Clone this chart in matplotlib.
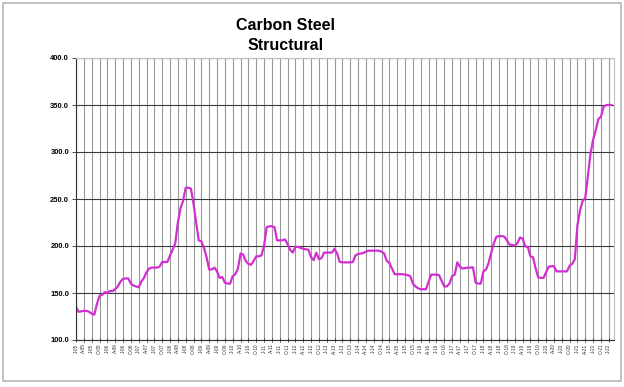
import matplotlib
matplotlib.use("Agg")
import matplotlib.pyplot as plt
from matplotlib.patches import Rectangle

plt.rcParams['font.family'] = ['Liberation Sans', 'DejaVu Sans']

# Monthly index values, Jan 2005 .. Feb 2022
values = [
    135, 130, 130.5, 131, 131, 130, 128, 127, 138, 147,
    148, 151, 150, 152, 152, 154, 157, 162, 165, 165.5,
    165.5, 160, 158, 157, 156, 162, 166, 172, 176, 177,
    177, 177, 178, 183, 183, 183, 190, 196, 203, 225,
    240, 248, 262, 262, 261, 245, 225, 206, 205, 198,
    188, 175, 175, 177, 173, 166, 167, 161, 160, 160,
    168, 170, 176, 192, 191, 184, 181, 180, 184, 189,
    189, 190, 200, 220, 221, 221, 220, 206, 206, 206,
    207, 202, 196, 193, 199, 199, 198, 197, 196.5, 196,
    188, 185, 193, 186, 187, 193, 193, 193, 193, 197,
    192, 183, 182.6, 182.6, 182.6, 182.6, 183, 190, 191.5, 192,
    192.5, 194, 195, 195, 195, 195, 195, 194, 192, 184,
    182, 176, 170, 170, 170, 170, 169.5, 169, 168, 160,
    157, 155, 154, 154, 154, 162, 169.5, 169.5, 169.5, 169,
    163, 157, 157, 160, 168, 169.5, 182.6, 178, 176, 176.5,
    177, 177, 177.3, 161, 160, 160, 173, 175, 182, 193,
    203, 210, 210.5, 210.5, 210, 206, 201.5, 201, 200.5, 203,
    209, 208, 199.5, 199, 189, 188, 176, 166.7, 166, 166,
    172, 178, 178.5, 178.5, 173, 173, 173, 173, 173, 179,
    181, 186, 222, 238, 248, 251, 275, 298, 313, 323,
    335, 337.5, 348, 350, 350, 350,
]

month_letters = ['J', 'A', 'J', 'O']
start_year = 5
tick_step = 3

n = len(values)
tick_pos = list(range(0, n, tick_step))
tick_labels = [f"{month_letters[(p // 3) % 4]}-{(start_year + p // 12):02d}" for p in tick_pos]

y_ticks = [100, 150, 200, 250, 300, 350, 400]

fig = plt.figure(figsize=(6.24, 3.87), dpi=100)
fig.patches.append(Rectangle((3 / 624, 6 / 387), 618 / 624, 378 / 387,
                             transform=fig.transFigure, fill=False,
                             edgecolor='#b8b8b8', linewidth=1.2))

ax = fig.add_axes([76 / 624, 47 / 387, 538 / 624, 282 / 387])
ax.plot(range(n), values, color='#d22ed2', linewidth=1.6, solid_joinstyle='round')

ax.set_xlim(0, 206)
ax.set_ylim(100, 400)
ax.set_yticks(y_ticks)
ax.set_yticklabels([f"{v:.1f}" for v in y_ticks], fontsize=5.4, fontweight='bold')
ax.set_xticks(tick_pos)
ax.set_xticklabels(tick_labels, rotation=90, fontsize=3.4, color='#333333')

ax.grid(axis='x', color='#999999', linewidth=0.8)
ax.grid(axis='y', color='#3a3a3a', linewidth=0.8)
ax.set_axisbelow(True)

for s in ['top', 'right']:
    ax.spines[s].set_color('#c0c0c0')
    ax.spines[s].set_linewidth(0.8)
for s in ['left', 'bottom']:
    ax.spines[s].set_color('#303030')
    ax.spines[s].set_linewidth(0.8)

ax.tick_params(axis='both', length=3, width=0.6, color='#303030', pad=2)
ax.tick_params(axis='x', direction='inout', pad=1)

fig.text(286 / 624, 1 - 26 / 387, "Carbon Steel", ha='center', va='center',
         fontsize=11.5, fontweight='bold')
fig.text(286 / 624, 1 - 46 / 387, "Structural", ha='center', va='center',
         fontsize=11.5, fontweight='bold')

fig.savefig('out.png', dpi=100)
